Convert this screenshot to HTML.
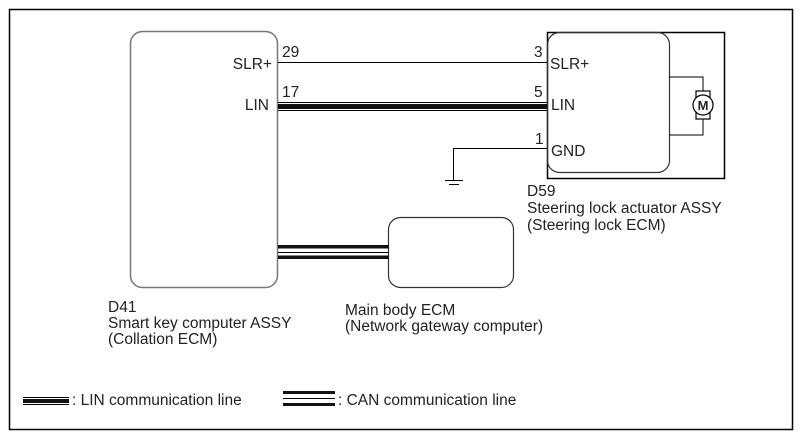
<!DOCTYPE html>
<html><head><style>body{margin:0;background:#fff}svg{display:block}text{font-family:"Liberation Sans",sans-serif;font-size:15.5px;fill:#222}</style></head><body>
<svg width="802" height="439" viewBox="0 0 802 439">
<rect x="9.5" y="9.5" width="783" height="420" fill="none" stroke="#000" stroke-width="1.5"/>
<rect x="130.5" y="31.5" width="147" height="256" rx="12" fill="none" stroke="#777" stroke-width="1.5"/>
<rect x="388.5" y="217.5" width="125" height="70" rx="12" fill="none" stroke="#333" stroke-width="1.2"/>
<rect x="547.5" y="32.5" width="177" height="146" fill="none" stroke="#000" stroke-width="1.5"/>
<rect x="547.5" y="32.5" width="122" height="140" rx="12" fill="none" stroke="#333" stroke-width="1.2"/>
<polyline points="669,77 703,77 703,92" fill="none" stroke="#000"/>
<polyline points="669,135 703,135 703,118" fill="none" stroke="#000"/>
<rect x="696" y="91" width="14" height="28" fill="#fff" stroke="#000" stroke-width="1.2"/>
<circle cx="703" cy="105" r="10" fill="#fff" stroke="#000" stroke-width="1.2"/>
<text x="703" y="110" text-anchor="middle" style="font-size:13px;font-weight:bold">M</text>
<line x1="278" y1="62.5" x2="547" y2="62.5" stroke="#000"/>
<line x1="278" y1="102.5" x2="547" y2="102.5" stroke="#000"/>
<rect x="278" y="104" width="269" height="5" fill="#111"/>
<line x1="278" y1="110.5" x2="547" y2="110.5" stroke="#000"/>
<polyline points="547,148.5 453.5,148.5 453.5,180" fill="none" stroke="#000"/>
<line x1="445" y1="180.5" x2="463" y2="180.5" stroke="#000"/>
<line x1="449" y1="184.5" x2="459" y2="184.5" stroke="#000"/>
<rect x="278" y="245" width="111" height="3.5" fill="#111"/>
<line x1="278" y1="252.5" x2="389" y2="252.5" stroke="#000"/>
<rect x="278" y="255.5" width="111" height="3.5" fill="#111"/>
<text x="282" y="57">29</text><text x="272" y="69" text-anchor="end">SLR+</text>
<text x="282" y="97">17</text><text x="269" y="110" text-anchor="end">LIN</text>
<text x="534" y="57">3</text><text x="550" y="69">SLR+</text>
<text x="534" y="97">5</text><text x="551" y="110">LIN</text>
<text x="535" y="144">1</text><text x="551" y="156">GND</text>
<text x="527" y="196">D59</text>
<text x="527" y="213">Steering lock actuator ASSY</text>
<text x="527" y="230">(Steering lock ECM)</text>
<text x="345" y="315">Main body ECM</text>
<text x="345" y="331">(Network gateway computer)</text>
<text x="108" y="312">D41</text>
<text x="108" y="328">Smart key computer ASSY</text>
<text x="108" y="344">(Collation ECM)</text>
<line x1="23" y1="397.5" x2="69" y2="397.5" stroke="#000"/>
<rect x="23" y="399" width="46" height="4" fill="#111"/>
<line x1="23" y1="404.5" x2="69" y2="404.5" stroke="#000"/>
<text x="72" y="405">: LIN communication line</text>
<rect x="283" y="391" width="52" height="3" fill="#111"/>
<line x1="283" y1="398.5" x2="335" y2="398.5" stroke="#000"/>
<rect x="283" y="403" width="52" height="3" fill="#111"/>
<text x="338" y="405">: CAN communication line</text>
</svg>
</body></html>
